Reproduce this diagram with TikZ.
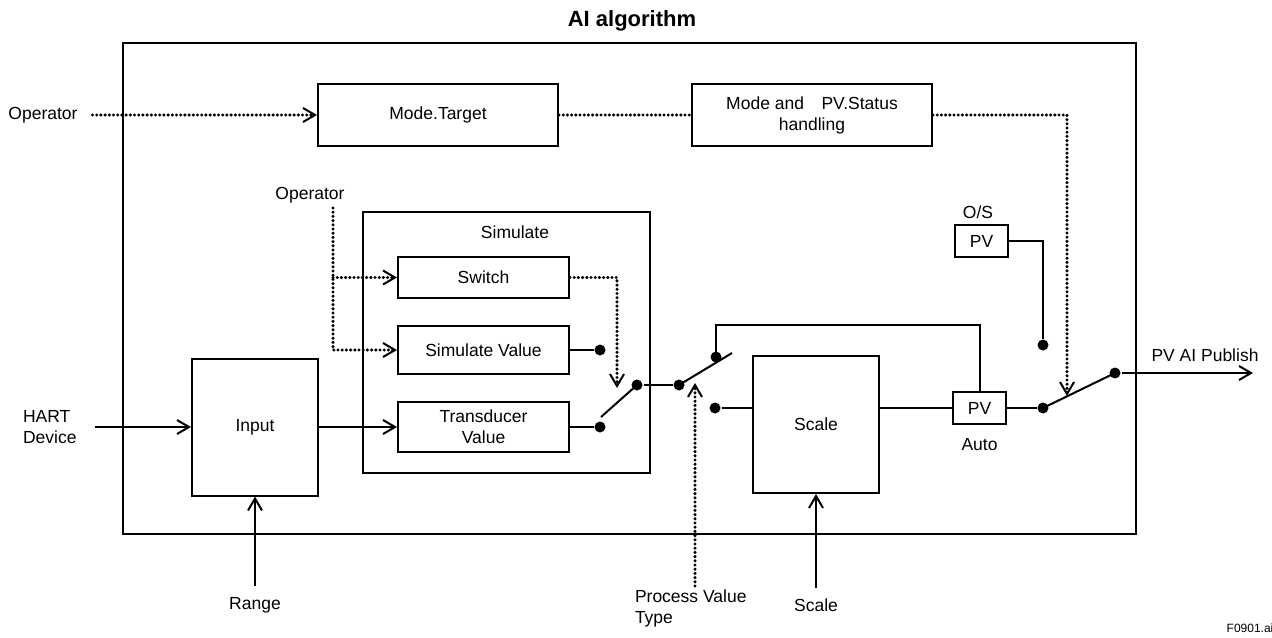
\documentclass[tikz,border=0pt]{standalone}
\usepackage{fontspec}
\setmainfont{Liberation Sans}
\usetikzlibrary{arrows.meta,positioning,calc}

\begin{document}
\begin{tikzpicture}[x=0.5pt,y=-0.5pt,
  font=\fontsize{8.75}{10.5}\selectfont, inner sep=0pt, line width=1pt,
  >={Straight Barb[length=6pt,width=7pt,line width=1pt]},
  blk/.style={draw, align=center},
  pvbox/.style={blk, minimum width=26.5pt, minimum height=16pt},
  contact/.style={circle, fill, minimum size=5.5pt, inner sep=0pt},
  dotline/.style={line width=1.7pt, line cap=round, dash pattern=on 0pt off 2.1pt}]
  \useasboundingbox (0,0) rectangle (1272,637);
  \node[font=\fontsize{11}{13}\selectfont\bfseries] (title) at (632,21) {AI algorithm};
  \node[draw, minimum width=506.5pt, minimum height=245.5pt] (algo) at (629.5,288.5) {};

  \node[blk, minimum width=120pt, minimum height=31pt] (target) at (438,115) {Mode.Target};
  \node[blk, minimum width=120pt, minimum height=31pt] (status) at (812,115) {Mode and\quad PV.Status\\handling};
  \node (op1) at (43,115) {Operator};
  \coordinate (swmode) at (1067,396);
  \draw[dotline,->,shorten <=7pt] (op1) -- (target);
  \draw[dotline] (target) -- (status);
  \draw[dotline,->] (status.east) -| (swmode);

  \node[blk, minimum width=143.5pt, minimum height=130.5pt] (sim) at (506.5,342.5) {};
  \node (simlbl) at (515,232) {Simulate};
  \node[blk, minimum width=85.5pt, minimum height=20.5pt] (switch) at (483.5,277.5) {Switch};
  \node[blk, minimum width=85.5pt, minimum height=24pt] (simval) at (483.5,350) {Simulate Value};
  \node[blk, minimum width=85.5pt, minimum height=25pt] (trval) at (483.5,427) {Transducer\\Value};
  \node (op2) at (310,195) {Operator};
  \coordinate (optap) at (333,208);
  \draw[dotline,->] (optap) |- (simval);
  \draw[dotline,->] (optap |- switch) -- (switch);

  \node[blk, minimum width=63pt, minimum height=68.5pt] (input) at (255,427) {Input};
  \node[align=left, anchor=west] (hart) at (22,427) {HART\\Device};
  \node (range) at (255,605) {Range};
  \draw[->,shorten <=9pt] (hart) -- (input);
  \draw[->] (input) -- (trval);
  \draw[->,shorten <=5pt] (range) -- (input);

  \node[contact] (svc) at (600,350) {};
  \node[contact] (tvc) at (600,427) {};
  \draw (simval) -- (svc);
  \draw (trval) -- (tvc);
  \node[contact] (piv1) at (637,385) {};
  \coordinate (blade1) at (601,417);
  \coordinate (swtip) at (617,388);
  \draw (blade1) -- (piv1.center);
  \draw[dotline,->] (switch) -| (swtip);

  \node[contact] (piv2) at (679,385) {};
  \node[contact] (up2) at (716,357) {};
  \node[contact] (lo2) at (715,408) {};
  \coordinate (blade2) at (732,353);
  \draw (piv1) -- (piv2);
  \draw (piv2.center) -- (blade2);

  \node[blk, minimum width=63pt, minimum height=68.5pt] (scale) at (816,424.5) {Scale};
  \node[pvbox] (pvauto) at (979.5,408) {PV};
  \node (auto) at (979.5,445) {Auto};
  \draw (lo2) -- (lo2 -| scale.west);
  \draw (up2.center) -- ++(0,-32) -| (pvauto.north);
  \draw (scale.east |- pvauto) -- (pvauto);

  \node[align=left, anchor=west] (pvt) at (634,608) {Process Value\\Type};
  \coordinate (pvtfoot) at (695,586);
  \coordinate (pvtip) at (695,383);
  \draw[dotline,->] (pvtfoot) -- (pvtip);
  \node (scalein) at (816,605) {Scale};
  \draw[->,shorten <=5pt] (scalein) -- (scale);

  \node[contact] (auc) at (1043,408) {};
  \node[contact] (outc) at (1115,373) {};
  \node[contact] (osc) at (1043,345) {};
  \node[pvbox] (pvos) at (981.5,241) {PV};
  \node (os) at (978,212) {O/S};
  \coordinate (pubend) at (1253,373);
  \node (pub) at (1205,355) {PV AI Publish};
  \draw (pvauto) -- (auc);
  \draw (auc.center) -- (outc.center);
  \draw (pvos) -| (osc);
  \draw[->] (outc) -- (pubend);

  \node[font=\fontsize{6}{7}\selectfont] (fig) at (1250,628) {F0901.ai};
\end{tikzpicture}
\end{document}
